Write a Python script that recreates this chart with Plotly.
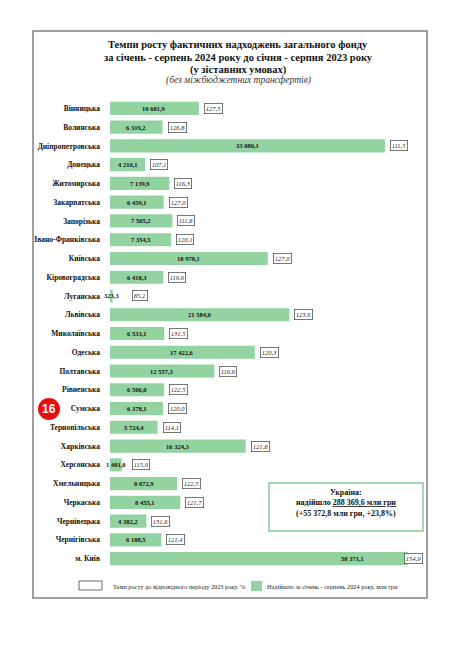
import plotly.graph_objects as go

# regions, top to bottom
regions = [
    "Вінницька", "Волинська", "Дніпропетровська", "Донецька", "Житомирська",
    "Закарпатська", "Запорізька", "Івано-Франківська", "Київська",
    "Кіровоградська", "Луганська", "Львівська", "Миколаївська", "Одеська",
    "Полтавська", "Рівненська", "Сумська", "Тернопільська", "Харківська",
    "Херсонська", "Хмельницька", "Черкаська", "Чернівецька", "Чернігівська",
    "м. Київ",
]
# надійшло за січень - серпень 2024, млн грн
received = [
    10681.9, 6319.2, 33080.1, 4210.1, 7139.9,
    6459.1, 7505.2, 7354.5, 18978.1,
    6418.3, 323.3, 21584.0, 6533.1, 17422.6,
    12557.3, 6506.0, 6378.1, 5724.4, 16324.3,
    1401.0, 8072.9, 8455.1, 4382.2, 6188.5,
    58371.1,
]
# темп росту, %
growth = [
    127.5, 126.8, 111.5, 107.1, 116.3,
    127.0, 111.8, 120.1, 127.0,
    119.6, 85.2, 123.6, 131.5, 120.3,
    116.6, 122.5, 120.0, 114.1, 121.8,
    115.9, 122.5, 121.7, 131.6, 121.4,
    154.9,
]

W, H = 468, 663
L, R, T, B = 110, 60, 99, 95
XMAX = 35850  # Kyiv city bar is cut at the right edge
GREEN = "#93d3a2"
SERIF = "Liberation Serif"


def fmt(v):
    return f"{v:,.1f}".replace(",", " ").replace(".", ",")


def fx(px):
    return (px - L) / (W - L - R)


def fy(py):
    return (H - B - py) / (H - T - B)


def note(px, py, text, size, anchor="center", family=SERIF, color="#111"):
    return dict(x=fx(px), y=fy(py), xref="paper", yref="paper", text=text,
                xanchor=anchor, yanchor="middle", showarrow=False,
                font=dict(family=family, size=size, color=color))


fig = go.Figure(go.Bar(
    x=received, y=regions, orientation="h",
    marker=dict(color=GREEN, line=dict(width=0)),
    hoverinfo="skip",
))

ann = []
for reg, v, g in zip(regions, received, growth):
    ann.append(dict(
        x=v / 2, y=reg, text=f"<b>{fmt(v)}</b>", showarrow=False,
        xanchor="center", yanchor="middle",
        font=dict(family=SERIF, size=6.5, color="#111"),
    ))
    ann.append(dict(
        x=min(max(v, 2000), XMAX * 0.97), y=reg, text=f"<i>{fmt(g)}</i>",
        showarrow=False, xanchor="left", yanchor="middle", xshift=5,
        font=dict(family=SERIF, size=6.5, color="#222"),
        bordercolor="#555", borderwidth=0.8, borderpad=1, bgcolor="white",
    ))

ann += [
    note(238, 45, "<b>Темпи росту фактичних надходжень загального фонду</b>", 10.5),
    note(238, 58, "<b>за січень - серпень 2024 року до січня - серпня 2023 року</b>", 10.5),
    note(238, 70, "<b>(у зіставних умовах)</b>", 10.5),
    note(238, 81, "<i>(без міжбюджетних трансфертів)</i>", 9.5, color="#333"),
    note(346, 492, "<b>Україна:</b>", 8),
    note(346, 502.5, "<b>надійшло <u>288 369,6 млн грн</u></b>", 8),
    note(346, 513, "<b>(+55 372,8 млн грн, +23,8%)</b>", 8),
    note(111, 586, "Темп росту до відповідного періоду 2023 року, %", 6.3,
         anchor="left", color="#222"),
    note(265, 586, "Надійшло за січень - серпень 2024 року, млн грн", 6.3,
         anchor="left", color="#222"),
    note(49, 409, "<b>16</b>", 12, family="Liberation Sans", color="white"),
]

shapes = [
    dict(type="rect", xref="paper", yref="paper", x0=fx(33), x1=fx(427),
         y0=fy(598), y1=fy(31), line=dict(color="#808080", width=1.5)),
    dict(type="rect", xref="paper", yref="paper", x0=fx(269), x1=fx(423),
         y0=fy(531), y1=fy(483), line=dict(color="#8cc99c", width=1.5)),
    dict(type="rect", xref="paper", yref="paper", x0=fx(79), x1=fx(102),
         y0=fy(590), y1=fy(581), line=dict(color="#444", width=0.8),
         fillcolor="white"),
    dict(type="rect", xref="paper", yref="paper", x0=fx(251), x1=fx(262),
         y0=fy(591), y1=fy(581), line=dict(width=0), fillcolor=GREEN),
    dict(type="circle", xref="paper", yref="paper", x0=fx(38), x1=fx(60),
         y0=fy(420), y1=fy(398), line=dict(width=0), fillcolor="#e3100f"),
]

fig.update_layout(
    width=W, height=H,
    margin=dict(l=L, r=R, t=T, b=B),
    plot_bgcolor="white", paper_bgcolor="white",
    bargap=0.3, showlegend=False,
    annotations=ann, shapes=shapes,
)
fig.update_xaxes(range=[0, XMAX], visible=False)
fig.update_yaxes(
    categoryorder="array", categoryarray=regions, autorange="reversed",
    showgrid=False, showline=False, ticks="", ticklabelstandoff=9,
    tickfont=dict(family=SERIF, size=7.5, color="#111"),
)
fig.update_yaxes(tickprefix="<b>", ticksuffix="</b>")

fig.write_html("out.html", config={"displayModeBar": False},
               post_script="document.body.style.margin='0';")
